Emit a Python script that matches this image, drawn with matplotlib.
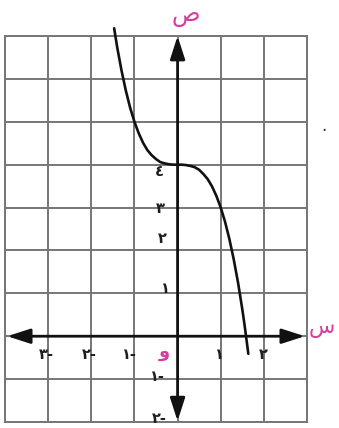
import matplotlib
matplotlib.use("Agg")
import matplotlib.pyplot as plt

# grid extents
x_range = (-4, 3)
y_range = (-2, 7)

# curve points
curve_x = [-1.47, -1.4, -1.3, -1.2, -1.1, -1.0, -0.9, -0.8, -0.7, -0.6, -0.5, -0.4, -0.3,
           -0.2, -0.1, 0.0, 0.1, 0.2, 0.3, 0.4, 0.5, 0.6, 0.7, 0.8, 0.9, 1.0, 1.1, 1.2,
           1.3, 1.4, 1.5, 1.55, 1.6, 1.64]
curve_y = [7.18, 6.74, 6.20, 5.73, 5.33, 5.00, 4.73, 4.51, 4.34, 4.22, 4.13, 4.06, 4.03,
           4.01, 4.00, 4.00, 4.00, 3.99, 3.97, 3.94, 3.88, 3.78, 3.66, 3.49, 3.27, 3.00,
           2.67, 2.27, 1.80, 1.26, 0.63, 0.28, -0.10, -0.41]

# tick labels (Arabic-Indic digits)
x_tick_vals = [-3, -2, -1, 1, 2]
x_tick_text = ["٣-", "٢-", "١-", "١", "٢"]
y_tick_vals = [4, 3, 2, 1, -1, -2]
y_tick_text = ["٤", "٣", "٢", "١", "١-", "٢-"]

W, H = 339, 428
fig = plt.figure(figsize=(W / 100, H / 100), dpi=100)
ax = fig.add_axes([5 / W, 6 / H, 302 / W, 386 / H])
ax.set_xlim(*x_range)
ax.set_ylim(*y_range)

grid_col = "#767676"
ax.set_xticks(range(x_range[0], x_range[1] + 1))
ax.set_yticks(range(y_range[0], y_range[1] + 1))
ax.grid(True, color=grid_col, linewidth=1.4)
ax.tick_params(length=0, labelbottom=False, labelleft=False)
for s in ax.spines.values():
    s.set_color(grid_col)
    s.set_linewidth(1.4)

# axes with arrows
arr = dict(arrowstyle="<|-|>,head_length=1.4,head_width=0.45", color="#111111",
           lw=2.0, shrinkA=0, shrinkB=0, mutation_scale=10)
ax.annotate("", xy=(x_range[1] - 0.05, 0), xytext=(x_range[0] + 0.05, 0),
            arrowprops=arr, annotation_clip=False)
ax.annotate("", xy=(0, y_range[1]), xytext=(0, y_range[0] + 0.02),
            arrowprops=arr, annotation_clip=False)

# curve
ax.plot(curve_x, curve_y, color="#111111", lw=1.9, clip_on=False, zorder=5,
        solid_capstyle="round")

# tick labels
x_label_pos = [-3.05, -2.05, -1.12, 0.98, 1.98]
for v, t, px in zip(x_tick_vals, x_tick_text, x_label_pos):
    ax.text(px, -0.42, t, ha="center", va="center", fontsize=10.5, color="#1e1e1e",
            fontweight="bold")
y_label_pos = [(-0.42, 3.85), (-0.4, 2.98), (-0.35, 2.28), (-0.28, 1.12),
               (-0.47, -0.95), (-0.43, -1.93)]
for v, t, (px, py) in zip(y_tick_vals, y_tick_text, y_label_pos):
    ax.text(px, py, t, ha="center", va="center", fontsize=10.5, color="#1e1e1e",
            fontweight="bold", clip_on=False)

mag = "#d63c9c"
ax.text(-0.3, -0.37, "و", ha="center", va="center", fontsize=13, color=mag,
        fontweight="bold")
ax.text(0.2, 7.5, "ص", ha="center", va="center", fontsize=17, color=mag,
        clip_on=False)
ax.text(3.34, 0.2, "س", ha="center", va="center", fontsize=15.5, color=mag,
        clip_on=False)
ax.text(3.4, 4.9, ".", ha="center", va="center", fontsize=12, color="#333333",
        clip_on=False)

fig.savefig("out.png", dpi=100)
